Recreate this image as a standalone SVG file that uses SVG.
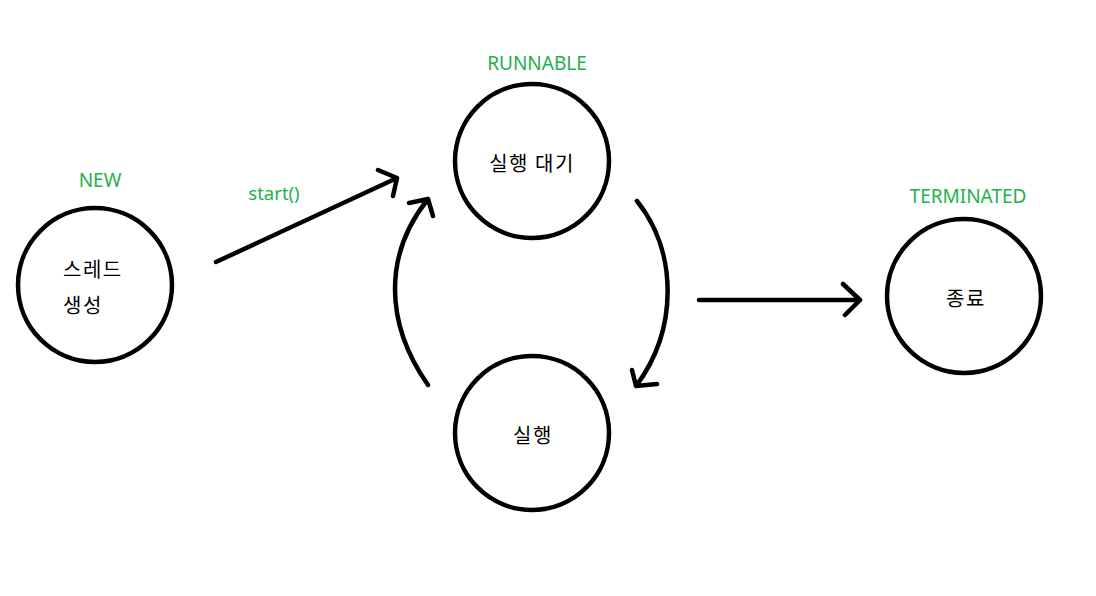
<svg xmlns="http://www.w3.org/2000/svg" width="1096" height="596" viewBox="0 0 1096 596">
<style>
.node{fill:none;stroke:#000;stroke-width:4.5}
.lbl{font-family:"Noto Sans","Noto Sans CJK KR",sans-serif;font-size:19px;fill:#22B14C;text-anchor:middle}
.kr{font-family:"Noto Sans CJK KR","Noto Sans",sans-serif;font-size:20px;letter-spacing:1.5px;fill:#000;dominant-baseline:central}
.c{text-anchor:middle}
.edge{fill:none;stroke:#000;stroke-width:4.5;stroke-linecap:round;stroke-linejoin:round}
</style>
<rect width="1096" height="596" fill="#fff"/>
<g id="new">
<circle class="node" cx="95" cy="285" r="77"/>
<text class="lbl" x="100" y="187">NEW</text>
<text class="kr" x="63" y="268">스레드</text>
<text class="kr" x="63" y="304">생성</text>
</g>
<g id="runnable-wait">
<circle class="node" cx="532" cy="161" r="77"/>
<text class="lbl" x="537" y="70">RUNNABLE</text>
<text class="kr c" x="532" y="162">실행 대기</text>
</g>
<g id="running">
<circle class="node" cx="532" cy="433" r="77"/>
<text class="kr c" x="533" y="434">실행</text>
</g>
<g id="terminated">
<circle class="node" cx="964" cy="296" r="77"/>
<text class="lbl" x="968" y="203">TERMINATED</text>
<text class="kr c" x="966" y="297">종료</text>
</g>
<g id="connectors">
<path class="edge" d="M216,262 L397,178 M378,170 L397,178 L393,196"/>
<text class="lbl" x="274" y="200" style="font-size:18.5px">start()</text>
<path class="edge" d="M428,385 C384,322 384,254 428,199 M409,203 L428,199 L433,216"/>
<path class="edge" d="M637,201 C678,252 678,330 636,386 M632,370 L636,386 L657,384"/>
<path class="edge" d="M699,300 L860,300 M843,284 L860,300 L845,315"/>
</g>
</svg>
